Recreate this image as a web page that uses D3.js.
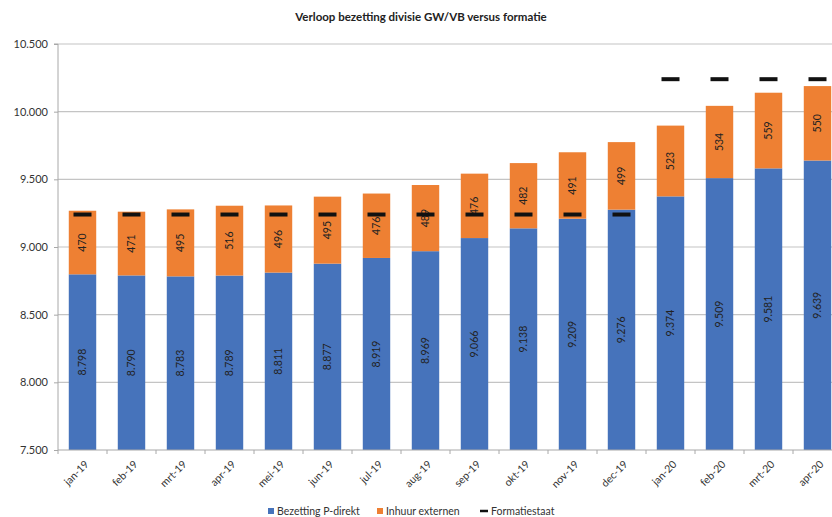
<!DOCTYPE html>
<html><head><meta charset="utf-8">
<script src="https://cdn.jsdelivr.net/npm/d3@7"></script>
<style>body{margin:0;background:#fff}svg{display:block}</style>
</head><body>
<script>
const categories = ["jan-19","feb-19","mrt-19","apr-19","mei-19","jun-19","jul-19","aug-19","sep-19","okt-19","nov-19","dec-19","jan-20","feb-20","mrt-20","apr-20"];
const bezetting = [8798,8790,8783,8789,8811,8877,8919,8969,9066,9138,9209,9276,9374,9509,9581,9639];
const inhuur = [470,471,495,516,496,495,476,489,476,482,491,499,523,534,559,550];
const formatie = [9240,9240,9240,9240,9240,9240,9240,9240,9240,9240,9240,9240,10240,10240,10240,10240];
const yTicks = [7500,8000,8500,9000,9500,10000,10500];
const title = "Verloop bezetting divisie GW/VB versus formatie";
const legendNames = ["Bezetting P-direkt","Inhuur externen","Formatiestaat"];

const W = 832, H = 517;
const blue = "#4673bb", orange = "#ee8033";
const font = "Lato, 'Open Sans', sans-serif";
const svg = d3.select("body").append("svg").attr("width", W).attr("height", H);

const x = d3.scaleBand().domain(categories).range([58, 842]).paddingInner(0.44).paddingOuter(0.22);
const y = d3.scaleLinear().domain([7500, 10500]).range([450, 44]);
const fmt = v => d3.format(",")(v).replace(/,/g, ".");

svg.append("text").attr("x", 421).attr("y", 21).attr("text-anchor", "middle")
  .attr("font-family", font).attr("font-weight", "bold").attr("font-size", 11.5).attr("fill", "#222").text(title);

// gridlines
svg.append("g").selectAll("line").data(yTicks.slice(1)).join("line")
  .attr("x1", 58).attr("x2", W).attr("y1", d => y(d)).attr("y2", d => y(d))
  .attr("stroke", "#c4c4c4").attr("stroke-width", 1.2);

// y axis
const ya = svg.append("g").attr("transform", "translate(58,0)")
  .call(d3.axisLeft(y).tickValues(yTicks).tickFormat(fmt).tickSize(4).tickPadding(6));
ya.selectAll("path,line").attr("stroke", "#a8a8a8");
ya.select(".domain").attr("d", `M-4,${y(10500)}H0V${y(7500)}`);
ya.selectAll("text").attr("font-family", font).attr("font-size", 11).attr("fill", "#333");

// bars
const g = svg.append("g");
g.selectAll("rect.b").data(categories).join("rect").attr("class", "b")
  .attr("x", d => x(d)).attr("width", x.bandwidth())
  .attr("y", (d, i) => y(bezetting[i])).attr("height", (d, i) => y(7500) - y(bezetting[i]))
  .attr("fill", blue);
g.selectAll("rect.o").data(categories).join("rect").attr("class", "o")
  .attr("x", d => x(d)).attr("width", x.bandwidth())
  .attr("y", (d, i) => y(bezetting[i] + inhuur[i])).attr("height", (d, i) => y(bezetting[i]) - y(bezetting[i] + inhuur[i]))
  .attr("fill", orange);

// labels
g.selectAll("text.lb").data(categories).join("text").attr("class", "lb")
  .attr("transform", (d, i) => `translate(${x(d) + x.bandwidth() / 2},${(y(bezetting[i]) + y(7500)) / 2}) rotate(-90)`)
  .attr("text-anchor", "middle").attr("dy", "0.35em")
  .attr("font-family", font).attr("font-size", 10.5).attr("fill", "#222")
  .text((d, i) => fmt(bezetting[i]));
g.selectAll("text.lo").data(categories).join("text").attr("class", "lo")
  .attr("transform", (d, i) => `translate(${x(d) + x.bandwidth() / 2},${(y(bezetting[i]) + y(bezetting[i] + inhuur[i])) / 2}) rotate(-90)`)
  .attr("text-anchor", "middle").attr("dy", "0.35em")
  .attr("font-family", font).attr("font-size", 10.5).attr("fill", "#222")
  .text((d, i) => inhuur[i]);

// formatie dashes
g.selectAll("line.f").data(categories).join("line").attr("class", "f")
  .attr("x1", d => x(d) + x.bandwidth() / 2 - 9).attr("x2", d => x(d) + x.bandwidth() / 2 + 9)
  .attr("y1", (d, i) => y(formatie[i])).attr("y2", (d, i) => y(formatie[i]))
  .attr("stroke", "#111").attr("stroke-width", 4);

// x axis
const xa = svg.append("g").attr("transform", `translate(0,${y(7500)})`)
  .call(d3.axisBottom(x).tickSize(0).tickPadding(8));
xa.select(".domain").attr("d", `M58,0H${W}`).attr("stroke", "#a8a8a8");
const step = x.step();
xa.append("g").selectAll("line").data(categories).join("line")
  .attr("x1", d => x(d) - x.paddingInner() * step / 2).attr("x2", d => x(d) - x.paddingInner() * step / 2)
  .attr("y1", 0).attr("y2", 4).attr("stroke", "#a8a8a8");
xa.selectAll(".tick text").attr("font-family", font).attr("font-size", 10.5).attr("fill", "#333")
  .attr("text-anchor", "end").attr("transform", "translate(-4,4) rotate(-45)");

// legend
const leg = svg.append("g").attr("font-family", font).attr("font-size", 10.5).attr("fill", "#333");
const lx = [268, 377, 480];
leg.append("rect").attr("x", lx[0]).attr("y", 508).attr("width", 6).attr("height", 6).attr("fill", blue);
leg.append("rect").attr("x", lx[1]).attr("y", 508).attr("width", 6).attr("height", 6).attr("fill", orange);
leg.append("line").attr("x1", lx[2]).attr("x2", lx[2] + 8).attr("y1", 511).attr("y2", 511).attr("stroke", "#111").attr("stroke-width", 2.5);
leg.selectAll("text").data(legendNames).join("text")
  .attr("x", (d, i) => lx[i] + (i === 2 ? 11 : 9)).attr("y", 515).text(d => d);
</script>
</body></html>
